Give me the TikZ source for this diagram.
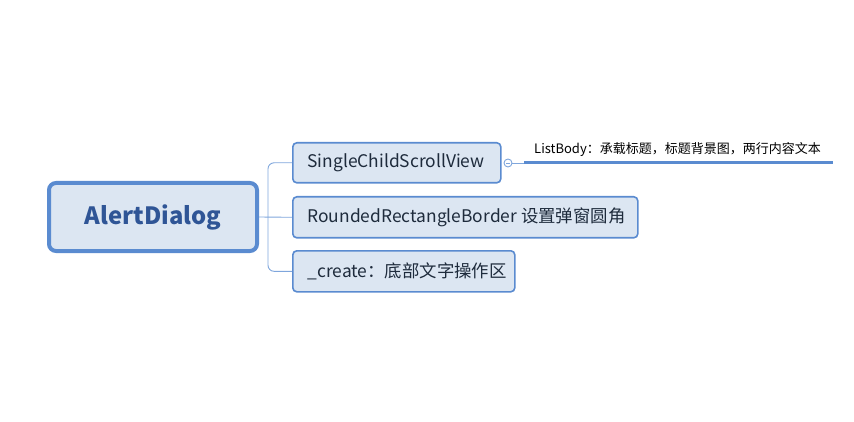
\documentclass[tikz,border=0pt]{standalone}
\usepackage{fontspec}
\setmainfont{Noto Sans CJK SC}
\definecolor{bord}{HTML}{5A8BD0}
\definecolor{fillc}{HTML}{DCE6F2}
\definecolor{roottxt}{HTML}{2F5596}
\definecolor{txt}{HTML}{1E2B3C}
\definecolor{conn}{HTML}{7FA6DC}
\begin{document}
\begin{tikzpicture}[x=1pt,y=-1pt,
  rootbox/.style={draw=bord,fill=fillc,line width=4pt,rounded corners=7pt,inner sep=0pt},
  childbox/.style={draw=bord,fill=fillc,line width=1.6pt,rounded corners=4pt,inner sep=0pt},
  childtxt/.style={anchor=west,font=\fontsize{17.4}{20}\selectfont,text=txt},
  conline/.style={draw=conn,line width=0.9pt}]
\useasboundingbox (0,0) rectangle (854,422);
\node[rootbox,minimum width=208pt,minimum height=68pt] (root) at (153,217) {};
\node[font=\bfseries\fontsize{23.8}{28}\selectfont,text=roottxt] (roott) at (root.center) {AlertDialog};
\node[childbox,minimum width=208pt,minimum height=40pt,anchor=north west] (c1) at (292,142) {};
\node[childbox,minimum width=345pt,minimum height=41pt,anchor=north west] (c2) at (292,196) {};
\node[childbox,minimum width=222pt,minimum height=41pt,anchor=north west] (c3) at (292,250) {};
\node[childtxt] (t1) at ([xshift=12pt]c1.west) {SingleChildScrollView};
\node[childtxt] (t2) at ([xshift=12pt]c2.west) {RoundedRectangleBorder 设置弹窗圆角};
\node[childtxt] (t3) at ([xshift=12pt]c3.west) {\_create：底部文字操作区};
\coordinate (jn) at (268,217);
\draw[conline] (root.east) -- (c2.west);
\draw[conline,rounded corners=6pt] (jn) |- (c1.west);
\draw[conline,rounded corners=6pt] (jn) |- (c3.west);
\node[circle,draw=conn,fill=white,line width=0.9pt,minimum size=8pt,inner sep=0pt] (col) at (508,163) {};
\draw[conn,line width=0.8pt] ([xshift=-2pt]col.center) -- ([xshift=2pt]col.center);
\coordinate (l1) at (524,163);
\coordinate (l2) at (833,163);
\draw[conline] (col.east) -- (l1);
\draw[draw=bord,line width=3pt] (l1) -- (l2);
\node[anchor=south west,font=\fontsize{13}{15}\selectfont,text=black,inner sep=0pt] (lb) at (534,157) {ListBody：承载标题，标题背景图，两行内容文本};
\end{tikzpicture}
\end{document}
